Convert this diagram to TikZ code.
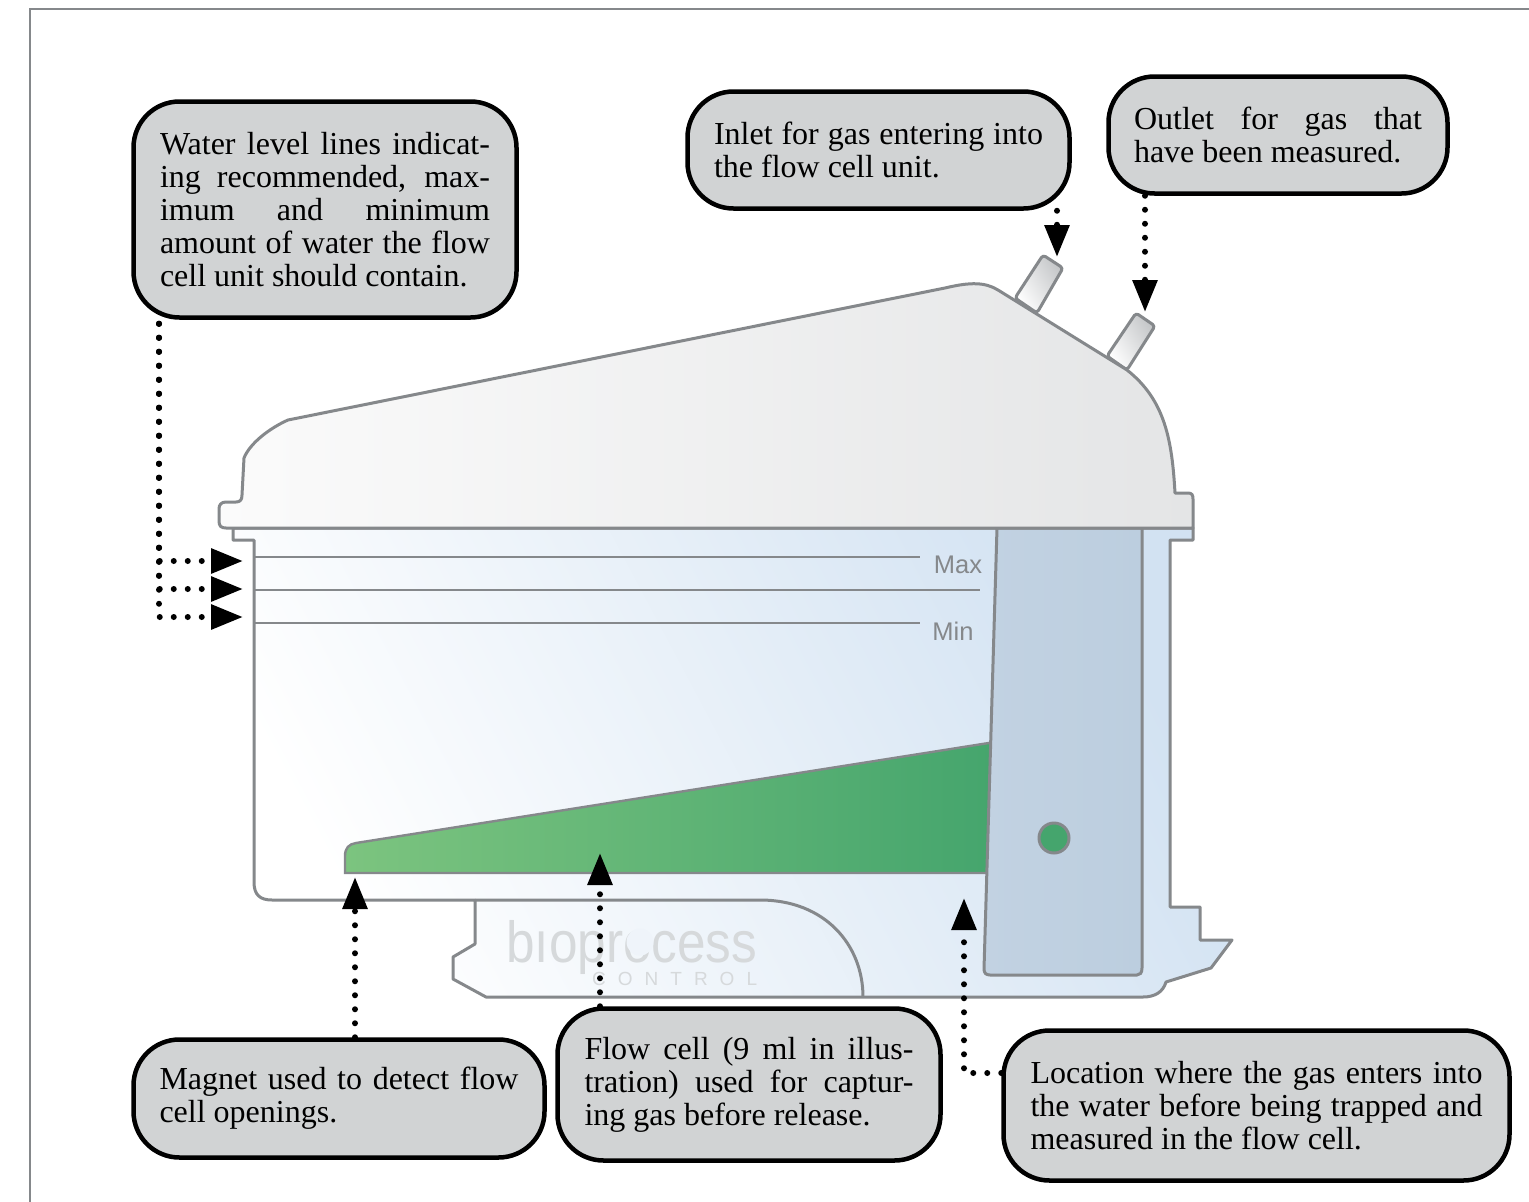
\documentclass[tikz,border=0pt]{standalone}
\usepackage{fontspec}
\setmainfont{Liberation Serif}
\newfontfamily\labelsans{Liberation Sans}
\usetikzlibrary{arrows.meta}
\pgfdeclarelayer{art}
\pgfdeclarelayer{conn}
\pgfsetlayers{art,conn,main}
\definecolor{edge}{HTML}{85888B}
\definecolor{boxfill}{HTML}{D1D3D4}
\definecolor{logogrey}{HTML}{D6D9DB}
\definecolor{HTMLblue}{HTML}{D2E2F2}
\definecolor{HTMLgreenL}{HTML}{7CC47F}
\definecolor{HTMLgreenR}{HTML}{45A56D}
\definecolor{HTMLcolL}{HTML}{C2D2E2}
\definecolor{HTMLcolR}{HTML}{BCCEDF}
\definecolor{HTMLtube}{HTML}{C4C6C8}
\definecolor{HTMLlidL}{HTML}{FBFBFB}
\definecolor{HTMLlidR}{HTML}{E4E5E6}
\definecolor{logomask}{HTML}{EFF4FA}
\newcommand{\calloutbody}[2]{\raisebox{3pt}{\parbox{#1pt}{\parindent=0pt\tolerance=10000\hbadness=10000\hfuzz=20pt #2}}}
\tikzset{
  x=1pt,y=-1pt,
  callout/.style={draw=black,line width=4.5pt,fill=boxfill,rounded corners=46pt,inner sep=0pt,
    font=\fontsize{32}{33}\selectfont,text=black},
  outline/.style={draw=edge,line width=3pt,line join=round},
  level/.style={draw=edge,line width=2.8pt},
  tag/.style={font=\labelsans\fontsize{25.5}{26}\selectfont,text=edge,inner sep=0pt},
  conn/.style={draw=black,line width=6pt,line cap=round,dash pattern=on 0pt off 14pt,
    -{Triangle[length=32pt,width=24pt]}},
}
\begin{document}
\begin{tikzpicture}
\useasboundingbox (0,0) rectangle (1529,1202);
\begin{pgfonlayer}{art}
\fill[white] (0,0) rectangle (1529,1202);
\draw[edge,line width=2pt] (30,1202) -- (30,9) -- (1529,9);
% body
\path[outline,bottom color=white,top color=HTMLblue,shading angle=-62] (233,528) -- (233,540) -- (254,540) -- (254,882)
  .. controls (254,895) and (260,900) .. (272,900) -- (475,900) -- (475,944) -- (453,957) -- (453,979) -- (486,997)
  -- (1143,997) .. controls (1155,997) and (1163,992) .. (1166,982) -- (1211,968) -- (1232,940) -- (1200,940) -- (1200,907)
  -- (1170,907) -- (1170,540) -- (1193,540) -- (1193,528) -- cycle;
\draw[outline] (475,900) -- (760,900) .. controls (825,900) and (863,945) .. (863,997);
% level lines
\draw[level] (255,557) -- (920,557);
\draw[level] (255,590) -- (980,590);
\draw[level] (255,623) -- (920,623);
\node[tag,anchor=center] (maxtag) at (958,565) {Max};
\node[tag,anchor=center] (mintag) at (953,631) {Min};
% logo
\node[inner sep=0pt,text=logogrey,anchor=base west] (logo) at (506,962)
  {\scalebox{.885}[1]{\labelsans\fontsize{58}{58}\selectfont bıoprocess}};
\fill[logomask] (640,942) circle[radius=13.5];
\node[inner sep=0pt,text=logogrey,anchor=base west] (logosub) at (592,985)
  {\labelsans\fontsize{19}{19}\selectfont C\hspace{12pt}O\hspace{12pt}N\hspace{12pt}T\hspace{12pt}R\hspace{12pt}O\hspace{12pt}L};
% flow cell
\path[draw=edge,line width=2.4pt,left color=HTMLgreenL,right color=HTMLgreenR]
  (345,873) -- (345,856) .. controls (345,848) and (349,844) .. (356,843) -- (995,742) -- (990,873) -- cycle;
% column
\path[outline,left color=HTMLcolL,right color=HTMLcolR]
  (997,528) -- (1142,528) -- (1142,968) .. controls (1142,973) and (1140,975) .. (1137,975) -- (990,975)
  .. controls (986,975) and (984,973) .. (984,969) -- cycle;
\node[circle,draw=edge,line width=3pt,fill=HTMLgreenR,minimum size=30pt,inner sep=0pt] (port) at (1054,838) {};
% tubes
\path[outline,bottom color=white,top color=HTMLtube,shading angle=-58,rounded corners=3pt]
  (1015,298) -- (1043,255) -- (1063,268) -- (1037,313) -- cycle;
\path[outline,bottom color=white,top color=HTMLtube,shading angle=-58,rounded corners=3pt]
  (1107,356) -- (1136,313) -- (1155,326) -- (1127,370) -- cycle;
% lid
\path[outline,left color=HTMLlidL,right color=HTMLlidR]
  (1193,528) -- (1193,499) .. controls (1193,495) and (1192,493) .. (1188,493) -- (1175,493)
  .. controls (1172,440) and (1165,400) .. (1127,370) -- (998,290) .. controls (985,282) and (970,282) .. (945,288)
  -- (288,420) .. controls (270,428) and (250,443) .. (244,458) -- (242,495) .. controls (242,500) and (240,502) .. (236,502)
  -- (226,502) .. controls (221,502) and (219,505) .. (219,509) -- (219,521) .. controls (219,526) and (221,528) .. (226,528) -- cycle;
\end{pgfonlayer}
% callouts
\node[callout,minimum width=383pt,minimum height=216pt] (water) at (325,209.5) {\calloutbody{330}{Water level lines indicat-\linebreak ing recommended, max-\linebreak imum and minimum\linebreak amount of water the flow\linebreak cell unit should contain.}};
\node[callout,minimum width=382pt,minimum height=117pt] (inlet) at (878.5,150) {\calloutbody{329}{Inlet for gas entering into\linebreak the flow cell unit.}};
\node[callout,minimum width=339pt,minimum height=117pt] (outlet) at (1278,135) {\calloutbody{288}{Outlet for gas that\linebreak have been measured.}};
\node[callout,minimum width=411pt,minimum height=118pt] (magnet) at (339,1098.5) {\calloutbody{359}{Magnet used to detect flow\linebreak cell openings.}};
\node[callout,minimum width=383pt,minimum height=152pt] (flow) at (749,1084.5) {\calloutbody{329}{Flow cell (9 ml in illus-\linebreak tration) used for captur-\linebreak ing gas before release.}};
\node[callout,minimum width=506pt,minimum height=150pt] (location) at (1256.5,1105.5) {\calloutbody{452}{Location where the gas enters into\linebreak the water before being trapped and\linebreak measured in the flow cell.}};
% connectors
\coordinate (tipWa) at (243,561);
\coordinate (tipWb) at (243,589);
\coordinate (tipWc) at (243,617);
\coordinate (wx) at (159,319);
\coordinate (tipIn) at (1057,257);
\coordinate (tipOut) at (1145,312);
\coordinate (tipMag) at (355,877);
\coordinate (tipFlow) at (600,853);
\coordinate (tipLoc) at (964,898);
\coordinate (locbend) at (964,1073);
\begin{pgfonlayer}{conn}
\foreach \t in {tipWa,tipWb,tipWc}
  \draw[conn,dash phase=10pt] (water.south -| wx) |- (\t);
\draw[conn] (inlet.south -| tipIn) -- (tipIn);
\draw[conn] (outlet.south -| tipOut) -- (tipOut);
\draw[conn] (magnet.north -| tipMag) -- (tipMag);
\draw[conn] (flow.north -| tipFlow) -- (tipFlow);
\draw[conn] (location.west |- locbend) -- (locbend) -- (tipLoc);
\end{pgfonlayer}
\end{tikzpicture}
\end{document}
